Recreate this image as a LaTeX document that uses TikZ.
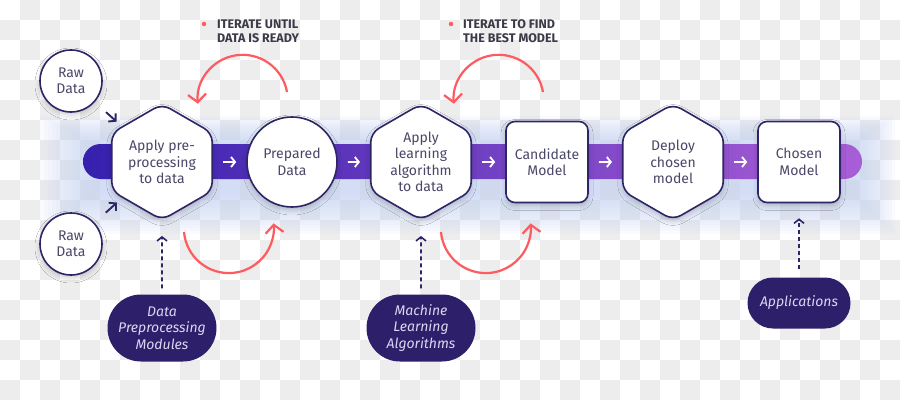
\documentclass[tikz,border=0pt]{standalone}
\usepackage{fontspec}
\setmainfont{Fira Sans}
\usetikzlibrary{arrows.meta,positioning,shapes.geometric,calc,shadows.blur}
\definecolor{ink}{HTML}{2E2566}
\definecolor{inktext}{HTML}{4A4868}
\definecolor{pillfill}{HTML}{2D1F69}
\definecolor{pilltext}{HTML}{DCD6F2}
\definecolor{iterred}{HTML}{FF5A5F}
\definecolor{notegray}{HTML}{3A3A48}
\definecolor{barL}{HTML}{3620AE}
\definecolor{barR}{HTML}{A85ED6}
\definecolor{glow}{HTML}{C9D6F6}
\definecolor{checker}{HTML}{EDEDED}
\tikzset{
  stepnode/.style={draw=ink, line width=1.6pt, fill=white, inner sep=0pt, align=center,
                   font=\fontsize{14}{16.5}\selectfont\color{inktext},
                   blur shadow={shadow xshift=0pt, shadow yshift=-3pt, shadow blur radius=5pt, shadow opacity=20}},
  hexbox/.style={stepnode, regular polygon, regular polygon sides=6, shape border rotate=30,
                 minimum size=116pt, rounded corners=9pt},
  roundbox/.style={stepnode, circle, minimum size=#1},
  squarebox/.style={stepnode, rectangle, rounded corners=9pt, minimum width=82pt, minimum height=81pt},
  pill/.style={fill=pillfill, rounded corners=#1, inner sep=0pt, align=center,
               font=\fontsize{14}{16.5}\selectfont\itshape\color{pilltext}},
  note/.style={align=left, inner sep=0pt, font=\fontsize{12.5}{14}\selectfont\bfseries\color{notegray}},
  reddot/.style={circle, fill=iterred, inner sep=0pt, minimum size=4.5pt},
  onbar/.style={-{Straight Barb[length=4pt,width=10pt]}, white, line width=1.8pt, shorten <=10pt, shorten >=10pt},
  feed/.style={-{Straight Barb[length=5pt,width=11pt]}, ink, line width=1.9pt},
  iterarc/.style={-{Straight Barb[length=8pt,width=18pt]}, iterred, line width=2.2pt},
  source/.style={-{Straight Barb[length=4pt,width=10pt]}, ink, line width=1.6pt, dash pattern=on 4pt off 3pt}
}

\begin{document}
\begin{tikzpicture}[x=1pt,y=1pt]
  \useasboundingbox (0,0) rectangle (900,400);
  \fill[white] (0,0) rectangle (900,400);
  \foreach \j in {0,...,19}{
    \pgfmathtruncatemacro{\off}{mod(\j+1,2)}
    \foreach \i in {0,2,...,44}
      \fill[checker] ({(\i+\off)*20},{380-20*\j}) rectangle +(20,20);
  }
  \foreach \k in {0,...,13}
    \fill[glow, fill opacity=0.09] ({40+4*\k},{166+3*\k}) rectangle ({895-3*\k},{284-2*\k});
  \shade[left color=barL, right color=barR, rounded corners=17.5pt] (83,221) rectangle (862,256);

  \node[roundbox=62pt] (raw1) at (71,319) {Raw\\Data};
  \node[roundbox=62pt] (raw2) at (71,156) {Raw\\Data};
  \node[hexbox] (prepro) at (162,238) {Apply pre-\\processing\\to data};
  \node[roundbox=90pt] (prepared) at (292,238) {Prepared\\Data};
  \node[hexbox] (learn) at (421,238) {Apply\\learning\\algorithm\\to data};
  \node[squarebox] (candidate) at (547,238) {Candidate\\Model};
  \node[hexbox] (deploy) at (673,238) {Deploy\\chosen\\model};
  \node[squarebox] (chosen) at (799,238) {Chosen\\Model};

  \node[pill=33.5pt, minimum width=109pt, minimum height=67pt] (dpm) at (162,72) {Data\\Preprocessing\\Modules};
  \node[pill=33.5pt, minimum width=109pt, minimum height=67pt] (mla) at (421,72) {Machine\\Learning\\Algorithms};
  \node[pill=25.5pt, minimum width=103pt, minimum height=51pt] (apps) at (799,97) {Applications};

  \node[note, anchor=west] (noteA) at (217,369) {ITERATE UNTIL\\DATA IS READY};
  \node[reddot] (dotA) at ([xshift=-13pt,yshift=7pt]noteA.west) {};
  \node[note, anchor=west] (noteB) at (463,369) {ITERATE TO FIND\\THE BEST MODEL};
  \node[reddot] (dotB) at ([xshift=-12pt,yshift=7pt]noteB.west) {};

  \draw[onbar] (prepro) -- (prepared);
  \draw[onbar] (prepared) -- (learn);
  \draw[onbar] (learn) -- (candidate);
  \draw[onbar] (candidate) -- (deploy);
  \draw[onbar] (deploy) -- (chosen);

  \draw[feed, shorten <=15pt, shorten >=7pt] (raw1) -- (prepro);
  \draw[feed, shorten <=15pt, shorten >=7pt] (raw2) -- (prepro);

  \draw[source, shorten <=6pt, shorten >=15pt] (dpm) -- (prepro);
  \draw[source, shorten <=6pt, shorten >=15pt] (mla) -- (learn);
  \draw[source, shorten <=8pt, shorten >=15pt] (apps) -- (chosen);

  \draw[iterarc] ([shift={(-5,70)}]prepared.center) arc[start angle=10, end angle=185, radius=45];
  \draw[iterarc] ([shift={(-4,70)}]candidate.center) arc[start angle=10, end angle=185, radius=45];
  \draw[iterarc] ([shift={(22,-70)}]prepro.center) arc[start angle=185, end angle=366, radius=45];
  \draw[iterarc] ([shift={(20,-70)}]learn.center) arc[start angle=185, end angle=366, radius=45];
\end{tikzpicture}
\end{document}
